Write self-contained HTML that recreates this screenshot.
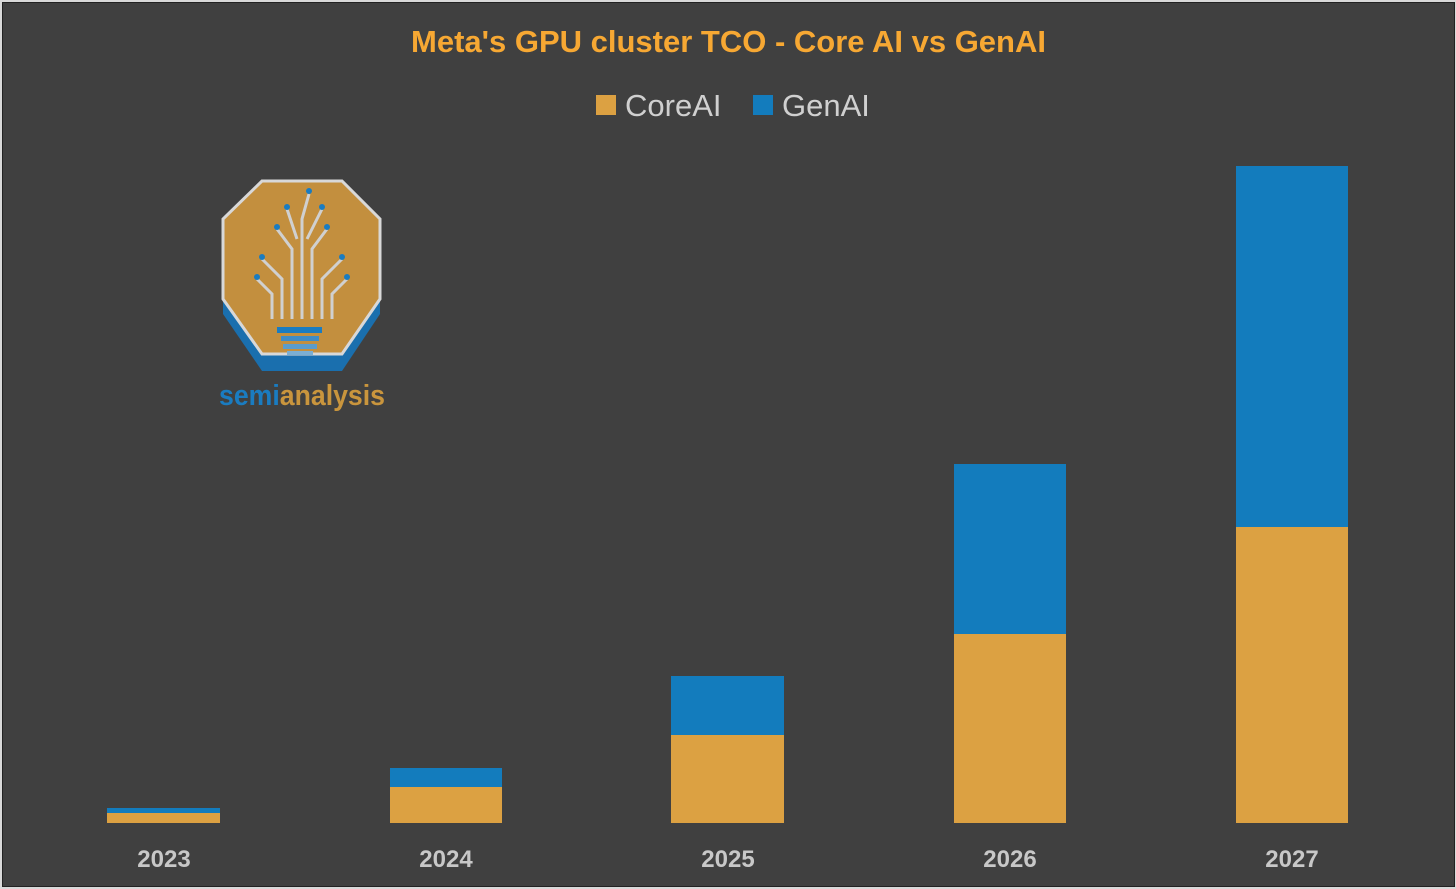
<!DOCTYPE html>
<html><head><style>
body{margin:0;background:#d9d9d9;}
#c{position:absolute;left:2px;top:2px;width:1451px;height:883px;background:#404040;border:1px solid #222;font-family:"Liberation Sans",sans-serif;}
.b{position:absolute;}
.o{background:#dca142;}
.g{background:#137cbd;}
.t{position:absolute;top:21px;left:0;width:100%;text-align:center;font-weight:bold;font-size:31px;color:#f7a833;}
.lg{position:absolute;top:85px;color:#d0d0d0;font-size:31px;}
.x{position:absolute;top:843px;width:120px;text-align:center;color:#c8c8c8;font-weight:bold;font-size:24px;}
</style></head><body>
<div id="c">
<div class="t">Meta's GPU cluster TCO - Core AI vs GenAI</div>
<div class="b o" style="left:593px;top:92px;width:20px;height:20px"></div>
<div class="lg" style="left:622px">CoreAI</div>
<div class="b g" style="left:750px;top:92px;width:20px;height:20px"></div>
<div class="lg" style="left:779px">GenAI</div>

<svg style="position:absolute;left:214px;top:176px" width="180" height="235" viewBox="0 0 180 235">
<polygon points="45,10 125,10 163,48 163,135 125,192 45,192 6,135 6,48" fill="#1a6fae"/>
<polygon points="45,2 125,2 163,40 163,120 125,175 45,175 6,120 6,40" fill="#c38f3e" stroke="#d8d8d8" stroke-width="3"/>
<g stroke="#d0d0d0" stroke-width="3" fill="none">
<path d="M65,140V100L45,80M75,140V70L60,50M85,140V40L92,15M95,140V70L110,50M105,140V100L125,80M55,140V115L40,100M115,140V115L130,100M80,60L70,30M90,60L105,30"/>
</g>
<g fill="#1a7cc1"><circle cx="92" cy="12" r="3"/><circle cx="70" cy="28" r="3"/><circle cx="105" cy="28" r="3"/><circle cx="60" cy="48" r="3"/><circle cx="110" cy="48" r="3"/><circle cx="45" cy="78" r="3"/><circle cx="125" cy="78" r="3"/><circle cx="40" cy="98" r="3"/><circle cx="130" cy="98" r="3"/></g>
<rect x="60" y="148" width="45" height="6" fill="#1a7cc1"/>
<rect x="64" y="157" width="38" height="5" fill="#3f8cc6"/>
<rect x="66" y="165" width="34" height="5" fill="#5a9ccc"/>
<rect x="70" y="172" width="26" height="4" fill="#7aaed3"/>
<text x="2" y="226" font-family="Liberation Sans,sans-serif" font-size="29" font-weight="bold" textLength="166" lengthAdjust="spacingAndGlyphs" fill="#1a7cc1">semi<tspan fill="#c9953d">analysis</tspan></text>
</svg>

<div class="b g" style="left:104px;top:805px;width:113px;height:5px"></div>
<div class="b o" style="left:104px;top:810px;width:113px;height:10px"></div>
<div class="b g" style="left:387px;top:765px;width:112px;height:19px"></div>
<div class="b o" style="left:387px;top:784px;width:112px;height:36px"></div>
<div class="b g" style="left:668px;top:673px;width:113px;height:59px"></div>
<div class="b o" style="left:668px;top:732px;width:113px;height:88px"></div>
<div class="b g" style="left:951px;top:461px;width:112px;height:170px"></div>
<div class="b o" style="left:951px;top:631px;width:112px;height:189px"></div>
<div class="b g" style="left:1233px;top:163px;width:112px;height:361px"></div>
<div class="b o" style="left:1233px;top:524px;width:112px;height:296px"></div>

<div class="x" style="left:101px">2023</div>
<div class="x" style="left:383px">2024</div>
<div class="x" style="left:665px">2025</div>
<div class="x" style="left:947px">2026</div>
<div class="x" style="left:1229px">2027</div>
</div>
</body></html>
